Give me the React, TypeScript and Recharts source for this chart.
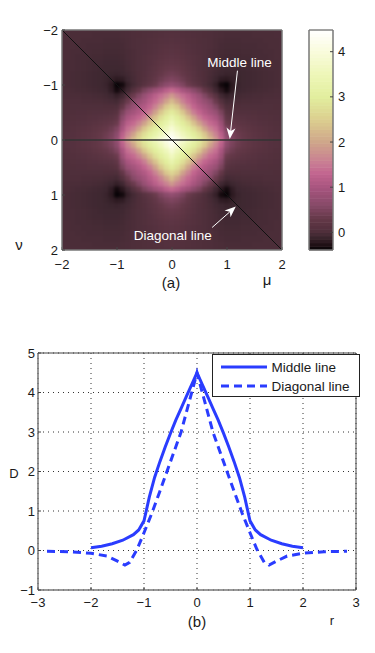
import { CartesianGrid, Legend, Line, LineChart, ReferenceDot, ReferenceLine, Scatter, ScatterChart, XAxis, YAxis } from 'recharts';

const FONT = '"Liberation Sans", Arial, sans-serif';

// quadrant of the map (rows nu = 0..2, columns mu = 0..2, step 0.1)
const quadrant = [
  [4.5, 4.2, 3.9, 3.6, 3.3, 2.97, 2.62, 2.25, 1.85, 1.35, 0.75, 0.52, 0.4, 0.32, 0.26, 0.21, 0.17, 0.14, 0.11, 0.09, 0.07],
  [4.2, 3.9, 3.55, 3.25, 3.0, 2.75, 2.4, 1.95, 1.6, 1.2, 0.65, 0.47, 0.37, 0.3, 0.24, 0.19, 0.16, 0.13, 0.1, 0.08, 0.06],
  [3.9, 3.55, 3.25, 3.0, 2.75, 2.4, 1.95, 1.6, 1.4, 1.0, 0.52, 0.38, 0.3, 0.24, 0.2, 0.16, 0.13, 0.11, 0.09, 0.07, 0.05],
  [3.6, 3.25, 3.0, 2.75, 2.35, 1.95, 1.6, 1.35, 1.2, 0.85, 0.35, 0.27, 0.22, 0.18, 0.15, 0.12, 0.1, 0.08, 0.07, 0.05, 0.04],
  [3.3, 3.0, 2.75, 2.35, 1.95, 1.55, 1.3, 1.15, 1.0, 0.65, 0.25, 0.17, 0.14, 0.12, 0.1, 0.09, 0.07, 0.06, 0.05, 0.04, 0.03],
  [2.97, 2.75, 2.4, 1.95, 1.55, 1.3, 1.1, 0.95, 0.8, 0.5, 0.13, 0.08, 0.07, 0.06, 0.06, 0.05, 0.04, 0.04, 0.03, 0.03, 0.02],
  [2.62, 2.4, 1.95, 1.6, 1.3, 1.1, 0.95, 0.78, 0.55, 0.28, 0.02, 0.01, 0.01, 0.02, 0.02, 0.02, 0.02, 0.02, 0.02, 0.01, 0.01],
  [2.25, 1.95, 1.6, 1.35, 1.15, 0.95, 0.78, 0.6, 0.35, 0.08, -0.06, -0.04, -0.03, -0.02, -0.02, -0.01, -0.01, 0, 0, 0, 0],
  [1.85, 1.6, 1.4, 1.2, 1.0, 0.8, 0.55, 0.35, 0.15, -0.08, -0.15, -0.1, -0.07, -0.05, -0.04, -0.03, -0.03, -0.02, -0.02, -0.01, -0.01],
  [1.35, 1.2, 1.0, 0.85, 0.65, 0.5, 0.28, 0.08, -0.08, -0.22, -0.33, -0.18, -0.1, -0.08, -0.07, -0.06, -0.05, -0.04, -0.03, -0.02, -0.02],
  [0.75, 0.65, 0.52, 0.35, 0.25, 0.13, 0.02, -0.06, -0.15, -0.33, -0.38, -0.2, -0.12, -0.09, -0.08, -0.07, -0.06, -0.05, -0.04, -0.03, -0.02],
  [0.52, 0.47, 0.38, 0.27, 0.17, 0.08, 0.01, -0.04, -0.1, -0.18, -0.2, -0.15, -0.11, -0.09, -0.08, -0.07, -0.06, -0.05, -0.04, -0.03, -0.02],
  [0.4, 0.37, 0.3, 0.22, 0.14, 0.07, 0.01, -0.03, -0.07, -0.1, -0.12, -0.11, -0.1, -0.09, -0.08, -0.07, -0.06, -0.05, -0.04, -0.03, -0.02],
  [0.32, 0.3, 0.24, 0.18, 0.12, 0.06, 0.02, -0.02, -0.05, -0.08, -0.09, -0.09, -0.09, -0.08, -0.07, -0.06, -0.05, -0.04, -0.03, -0.03, -0.02],
  [0.26, 0.24, 0.2, 0.15, 0.1, 0.06, 0.02, -0.02, -0.04, -0.07, -0.08, -0.08, -0.08, -0.07, -0.07, -0.06, -0.05, -0.04, -0.03, -0.03, -0.02],
  [0.21, 0.19, 0.16, 0.12, 0.09, 0.05, 0.02, -0.01, -0.03, -0.06, -0.07, -0.07, -0.07, -0.06, -0.06, -0.05, -0.04, -0.04, -0.03, -0.02, -0.02],
  [0.17, 0.16, 0.13, 0.1, 0.07, 0.04, 0.02, -0.01, -0.03, -0.05, -0.06, -0.06, -0.06, -0.05, -0.05, -0.04, -0.04, -0.03, -0.03, -0.02, -0.02],
  [0.14, 0.13, 0.11, 0.08, 0.06, 0.04, 0.02, 0, -0.02, -0.04, -0.05, -0.05, -0.05, -0.04, -0.04, -0.04, -0.03, -0.03, -0.02, -0.02, -0.01],
  [0.11, 0.1, 0.09, 0.07, 0.05, 0.03, 0.02, 0, -0.02, -0.03, -0.04, -0.04, -0.04, -0.03, -0.03, -0.03, -0.03, -0.02, -0.02, -0.02, -0.01],
  [0.09, 0.08, 0.07, 0.05, 0.04, 0.03, 0.01, 0, -0.01, -0.02, -0.03, -0.03, -0.03, -0.03, -0.03, -0.02, -0.02, -0.02, -0.02, -0.01, -0.01],
  [0.07, 0.06, 0.05, 0.04, 0.03, 0.02, 0.01, 0, -0.01, -0.02, -0.02, -0.02, -0.02, -0.02, -0.02, -0.02, -0.01, -0.01, -0.01, -0.01, 0],
];

const colorValues = [-0.39, -0.25, -0.1, 0, 0.3, 0.6, 1.0, 1.3, 1.5, 2.0, 2.5, 3.0, 3.5, 4.0, 4.48];
const colorHex = ['#050204', '#251319', '#3d2730', '#4e2e3a', '#643848', '#874a68', '#a8557f', '#c2658f', '#c87a94', '#cfa68a', '#dccf8f', '#e2ee9e', '#eef7b8', '#f9fbdc', '#ffffff'];

const mapTicks = [-2, -1, 0, 1, 2];
const barTicks = [0, 1, 2, 3, 4];
const barRange = [-0.39, 4.48];
const barBands = 64;

const seriesNames = ['Middle line', 'Diagonal line'];
const middleR = [-2, -1.8, -1.6, -1.4, -1.2, -1.1, -1, -0.9, -0.8, -0.7, -0.6, -0.5, -0.4, -0.3, -0.2, -0.1, 0, 0.1, 0.2, 0.3, 0.4, 0.5, 0.6, 0.7, 0.8, 0.9, 1, 1.1, 1.2, 1.4, 1.6, 1.8, 2];
const middleD = [0.07, 0.11, 0.17, 0.26, 0.4, 0.52, 0.75, 1.35, 1.85, 2.25, 2.62, 2.97, 3.3, 3.6, 3.9, 4.2, 4.5, 4.2, 3.9, 3.6, 3.3, 2.97, 2.62, 2.25, 1.85, 1.35, 0.75, 0.52, 0.4, 0.26, 0.17, 0.11, 0.07];
const diagonalR = [-2.83, -2.4, -2, -1.7, -1.5, -1.36, -1.27, -1.13, -1, -0.85, -0.7, -0.5, -0.3, -0.15, 0, 0.15, 0.3, 0.5, 0.7, 0.85, 1, 1.13, 1.27, 1.36, 1.5, 1.7, 2, 2.4, 2.83];
const diagonalD = [-0.02, -0.03, -0.07, -0.14, -0.27, -0.37, -0.3, 0.03, 0.45, 0.95, 1.5, 2.25, 3.0, 3.75, 4.5, 3.75, 3.0, 2.25, 1.5, 0.95, 0.45, 0.03, -0.3, -0.37, -0.27, -0.14, -0.07, -0.03, -0.02];
const rTicks = [-3, -2, -1, 0, 1, 2, 3];
const dTicks = [-1, 0, 1, 2, 3, 4, 5];

function hexToRgb(h: string) {
  return [1, 3, 5].map((i) => parseInt(h.slice(i, i + 2), 16));
}

function colorFor(v: number) {
  let i = 0;
  while (i < colorValues.length - 2 && v > colorValues[i + 1]) i++;
  const t = Math.max(0, Math.min(1, (v - colorValues[i]) / (colorValues[i + 1] - colorValues[i])));
  const a = hexToRgb(colorHex[i]);
  const b = hexToRgb(colorHex[i + 1]);
  return `rgb(${a.map((c, k) => Math.round(c + (b[k] - c) * t)).join(',')})`;
}

// the picture is symmetric, so the other three quadrants are mirrored from the table
const cells: { mu: number; nu: number; value: number }[] = [];
for (let row = -20; row <= 20; row++) {
  for (let col = -20; col <= 20; col++) {
    cells.push({ mu: col / 10, nu: row / 10, value: quadrant[Math.abs(row)][Math.abs(col)] });
  }
}

// colour bar bands, one per colormap level
const bandStep = (barRange[1] - barRange[0]) / barBands;
const bands = Array.from({ length: barBands }, (_, i) => ({ x: 0.5, y: barRange[0] + bandStep * (i + 0.5) }));

const middleData = middleR.map((r, i) => ({ r, d: middleD[i] }));
const diagonalData = diagonalR.map((r, i) => ({ r, d: diagonalD[i] }));

const fmt = (v: number) => (v < 0 ? `\u2212${Math.abs(v)}` : `${v}`);
const tickStyle = { fontSize: 13, fill: '#1a1a1a', fontFamily: FONT };

function HeatCell(props: any) {
  const { cx, cy, payload } = props;
  const half = 3;
  const pad = 14;
  const left = payload.mu === -2 ? pad : half;
  const right = payload.mu === 2 ? pad : half;
  const top = payload.nu === -2 ? pad : half;
  const bottom = payload.nu === 2 ? pad : half;
  return <rect x={cx - left} y={cy - top} width={left + right} height={top + bottom} fill={colorFor(payload.value)} />;
}

function BandCell(props: any) {
  const { cx, cy, payload } = props;
  return <rect x={cx - 12} y={cy - 2} width={24} height={4} fill={colorFor(payload.y)} />;
}

function ArrowLine(props: any) {
  const { x1, y1, x2, y2 } = props;
  const len = Math.hypot(x2 - x1, y2 - y1);
  const ux = (x2 - x1) / len;
  const uy = (y2 - y1) / len;
  const head = 11;
  const wide = 4.5;
  const bx = x2 - ux * head;
  const by = y2 - uy * head;
  const nx = bx + ux * 3;
  const ny = by + uy * 3;
  const points = `${x2},${y2} ${bx - uy * wide},${by + ux * wide} ${nx},${ny} ${bx + uy * wide},${by - ux * wide}`;
  return (
    <g>
      <line x1={x1} y1={y1} x2={nx} y2={ny} stroke="#fff" strokeWidth={1} />
      <polygon points={points} fill="#fff" />
    </g>
  );
}

function LegendBox({ payload }: any) {
  const items = seriesNames.map((n) => (payload || []).find((p: any) => p.value === n)).filter(Boolean);
  return (
    <div style={{ width: 148, height: 43, boxSizing: 'border-box', border: '1px solid #222', background: '#fff', position: 'relative', fontFamily: FONT, fontSize: 13.5, color: '#1a1a1a' }}>
      {items.map((item: any, i: number) => (
        <div key={item.value} style={{ position: 'absolute', left: 8, top: 3 + i * 19, height: 18, display: 'flex', alignItems: 'center', whiteSpace: 'nowrap' }}>
          <svg width={46} height={6} style={{ marginRight: 5 }}>
            <line x1={0} x2={46} y1={3} y2={3} stroke={item.color} strokeWidth={3} strokeDasharray={i === 1 ? '8 5' : undefined} />
          </svg>
          {item.value}
        </div>
      ))}
    </div>
  );
}

function Note({ x, y, size, children }: any) {
  return (
    <div style={{ position: 'absolute', left: x, top: y, transform: 'translate(-50%,-50%)', fontFamily: FONT, fontSize: size, color: '#1a1a1a', lineHeight: 1 }}>
      {children}
    </div>
  );
}

export default function App() {
  const lightAxis = { stroke: '#777', strokeWidth: 1.5 };
  const darkAxis = { stroke: '#444' };
  const inner = { stroke: '#444' };
  return (
    <div style={{ position: 'absolute', left: 0, top: 0, width: 375, height: 653, background: '#fff' }}>
      <style>{`.heat-cells { filter: url(#heatBlur); }`}</style>

      {/* (a) map */}
      <div style={{ position: 'absolute', left: 0, top: 0 }}>
        <ScatterChart width={375} height={300} margin={{ top: 29, right: 92, bottom: 49, left: 61 }}>
          <defs>
            <filter id="heatBlur" filterUnits="userSpaceOnUse" x={40} y={10} width={265} height={265} colorInterpolationFilters="sRGB">
              <feGaussianBlur stdDeviation={1.8} x={62} y={30} width={220} height={220} />
            </filter>
          </defs>
          <XAxis type="number" dataKey="mu" domain={[-2, 2]} ticks={mapTicks} tickFormatter={fmt} height={1} tick={tickStyle} tickSize={-3} tickMargin={13} axisLine={lightAxis} tickLine={inner} interval={0} />
          <XAxis xAxisId="top" orientation="top" type="number" dataKey="mu" domain={[-2, 2]} ticks={mapTicks} height={1} tick={false} tickSize={-3} axisLine={lightAxis} tickLine={inner} />
          <YAxis type="number" dataKey="nu" domain={[-2, 2]} reversed ticks={mapTicks} tickFormatter={fmt} width={1} tick={tickStyle} tickSize={-3} tickMargin={7} axisLine={lightAxis} tickLine={inner} interval={0} />
          <YAxis yAxisId="right" orientation="right" type="number" dataKey="nu" domain={[-2, 2]} reversed ticks={mapTicks} width={1} tick={false} tickSize={-3} axisLine={lightAxis} tickLine={inner} />
          <Scatter className="heat-cells" data={cells} shape={HeatCell} isAnimationActive={false} zIndex={-50} />
          <ReferenceLine segment={[{ x: -2, y: 0 }, { x: 2, y: 0 }]} stroke="#333" strokeWidth={1.5} />
          <ReferenceLine segment={[{ x: -2, y: -2 }, { x: 2, y: 2 }]} stroke="#111" strokeWidth={1} />
          <ReferenceLine segment={[{ x: 1.19, y: -1.26 }, { x: 1.05, y: -0.02 }]} shape={ArrowLine} />
          <ReferenceLine segment={[{ x: 0.73, y: 1.59 }, { x: 1.16, y: 1.21 }]} shape={ArrowLine} />
          <ReferenceDot x={1.227} y={-1.42} r={0} fill="none" stroke="none" label={{ value: 'Middle line', fill: '#fff', fontSize: 13.5, fontFamily: FONT, position: 'center' }} />
          <ReferenceDot x={0.013} y={1.73} r={0} fill="none" stroke="none" label={{ value: 'Diagonal line', fill: '#fff', fontSize: 13.5, fontFamily: FONT, position: 'center' }} />
        </ScatterChart>
      </div>

      {/* colour bar */}
      <div style={{ position: 'absolute', left: 0, top: 0 }}>
        <ScatterChart width={375} height={300} margin={{ top: 29, right: 41, bottom: 49, left: 308 }}>
          <XAxis type="number" dataKey="x" domain={[0, 1]} ticks={[0, 1]} tick={false} tickLine={false} height={1} axisLine={lightAxis} />
          <XAxis xAxisId="top" orientation="top" type="number" dataKey="x" domain={[0, 1]} ticks={[0, 1]} tick={false} tickLine={false} height={1} axisLine={darkAxis} />
          <YAxis yAxisId="left" type="number" dataKey="y" domain={barRange} ticks={barTicks} width={1} tick={false} tickSize={-3} axisLine={lightAxis} tickLine={inner} />
          <YAxis orientation="right" type="number" dataKey="y" domain={barRange} ticks={barTicks} width={1} tick={tickStyle} tickSize={-3} tickMargin={8} axisLine={lightAxis} tickLine={inner} interval={0} />
          <Scatter data={bands} shape={BandCell} isAnimationActive={false} zIndex={-50} />
        </ScatterChart>
      </div>

      {/* (b) profiles */}
      <div style={{ position: 'absolute', left: 0, top: 340 }}>
        <LineChart width={375} height={300} margin={{ top: 12, right: 18, bottom: 49, left: 37 }}>
          <CartesianGrid stroke="#333" strokeDasharray="1 4" />
          <XAxis type="number" dataKey="r" domain={[-3, 3]} ticks={rTicks} tickFormatter={fmt} height={1} tick={tickStyle} tickSize={-3} tickMargin={11} axisLine={lightAxis} tickLine={inner} interval={0} allowDuplicatedCategory={false} />
          <XAxis xAxisId="top" orientation="top" type="number" dataKey="r" domain={[-3, 3]} ticks={rTicks} height={1} tick={false} tickSize={-3} axisLine={darkAxis} tickLine={inner} allowDuplicatedCategory={false} />
          <YAxis type="number" domain={[-1, 5]} ticks={dTicks} tickFormatter={fmt} width={1} tick={tickStyle} tickSize={-3} tickMargin={6} axisLine={lightAxis} tickLine={inner} interval={0} />
          <YAxis yAxisId="right" orientation="right" type="number" domain={[-1, 5]} ticks={dTicks} width={1} tick={false} tickSize={-3} axisLine={darkAxis} tickLine={inner} />
          <Legend layout="horizontal" verticalAlign="middle" content={<LegendBox />} wrapperStyle={{ left: 211.5, top: 14, bottom: 'auto', width: 148 }} />
          <Line data={middleData} dataKey="d" name={seriesNames[0]} stroke="#2a3cff" strokeWidth={3} dot={false} isAnimationActive={false} />
          <Line data={diagonalData} dataKey="d" name={seriesNames[1]} stroke="#2a3cff" strokeWidth={3} strokeDasharray="8 5" dot={false} isAnimationActive={false} />
        </LineChart>
      </div>

      <Note x={171} y={282} size={15}>(a)</Note>
      <Note x={19} y={244} size={15}>&nu;</Note>
      <Note x={267} y={279} size={15}>&mu;</Note>
      <Note x={197} y={621} size={15}>(b)</Note>
      <Note x={14} y={473} size={13}>D</Note>
      <Note x={332} y={620} size={13}>r</Note>
    </div>
  );
}
